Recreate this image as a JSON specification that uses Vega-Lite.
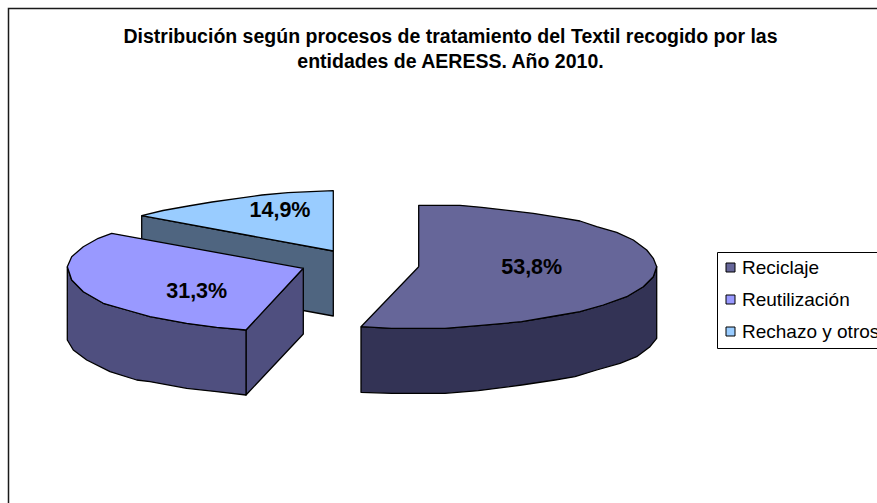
{"$schema":"https://vega.github.io/schema/vega-lite/v6.json","width":877,"height":503,"padding":0,"autosize":{"type":"none"},"background":"white","view":{"stroke":null},
"title":{"text":["Distribución según procesos de tratamiento del Textil recogido por las","entidades de AERESS. Año 2010."],"font":"Liberation Sans","fontSize":19.5,"fontWeight":"bold","color":"#000000","lineHeight":25,"anchor":"middle","dx":12,"offset":-72},
"layer":[
{"data":{"values":[{"x":8.5,"y":503,"o":1},{"x":8.5,"y":8.5,"o":2},{"x":877,"y":8.5,"o":3}]},"mark":{"type":"line","stroke":"#1a1a1a","strokeWidth":1.5},"encoding":{"x":{"field":"x","type":"quantitative","axis":null,"scale":{"domain":[0,877],"nice":false,"zero":false}},"y":{"field":"y","type":"quantitative","axis":null,"scale":{"domain":[503,0],"nice":false,"zero":false}},"order":{"field":"o"}}},
{"data":{"values":[
{"p":"Rechazo lateral","o":1,"x":141.7,"y":215.7},{"p":"Rechazo lateral","o":2,"x":333.3,"y":251},{"p":"Rechazo lateral","o":3,"x":333.3,"y":316},{"p":"Rechazo lateral","o":4,"x":141.7,"y":281},{"p":"Rechazo lateral","o":5,"x":141.7,"y":215.7},
{"p":"Rechazo y otros","o":1,"x":333.3,"y":251},{"p":"Rechazo y otros","o":2,"x":333.3,"y":190.7},{"p":"Rechazo y otros","o":3,"x":288,"y":192.7},{"p":"Rechazo y otros","o":4,"x":262,"y":195},{"p":"Rechazo y otros","o":5,"x":238,"y":198.3},{"p":"Rechazo y otros","o":6,"x":212,"y":202},{"p":"Rechazo y otros","o":7,"x":188.3,"y":206},{"p":"Rechazo y otros","o":8,"x":163,"y":210.5},{"p":"Rechazo y otros","o":9,"x":141.7,"y":215.7},{"p":"Rechazo y otros","o":10,"x":333.3,"y":251},
{"p":"Reutilización interior","o":1,"x":246,"y":330},{"p":"Reutilización interior","o":2,"x":303.3,"y":268.3},{"p":"Reutilización interior","o":3,"x":303.3,"y":334},{"p":"Reutilización interior","o":4,"x":246,"y":395},{"p":"Reutilización interior","o":5,"x":246,"y":330},
{"p":"Reutilización lateral","o":1,"x":67.3,"y":266.7},{"p":"Reutilización lateral","o":2,"x":71.7,"y":280},{"p":"Reutilización lateral","o":3,"x":83.3,"y":291.7},{"p":"Reutilización lateral","o":4,"x":103.3,"y":303.3},{"p":"Reutilización lateral","o":5,"x":126.7,"y":310},{"p":"Reutilización lateral","o":6,"x":150,"y":316.7},{"p":"Reutilización lateral","o":7,"x":186.7,"y":323.3},{"p":"Reutilización lateral","o":8,"x":216.7,"y":327.3},{"p":"Reutilización lateral","o":9,"x":246,"y":330},{"p":"Reutilización lateral","o":10,"x":246,"y":395},{"p":"Reutilización lateral","o":11,"x":216.7,"y":391.7},{"p":"Reutilización lateral","o":12,"x":186.7,"y":388.3},{"p":"Reutilización lateral","o":13,"x":150,"y":381.7},{"p":"Reutilización lateral","o":14,"x":136.7,"y":380},{"p":"Reutilización lateral","o":15,"x":110,"y":371.7},{"p":"Reutilización lateral","o":16,"x":86.7,"y":360},{"p":"Reutilización lateral","o":17,"x":73.3,"y":350},{"p":"Reutilización lateral","o":18,"x":67.3,"y":340},{"p":"Reutilización lateral","o":19,"x":67.3,"y":266.7},
{"p":"Reutilización","o":1,"x":303.3,"y":268.3},{"p":"Reutilización","o":2,"x":111.7,"y":233.3},{"p":"Reutilización","o":3,"x":98.3,"y":238.3},{"p":"Reutilización","o":4,"x":83.3,"y":246.7},{"p":"Reutilización","o":5,"x":71.7,"y":256.7},{"p":"Reutilización","o":6,"x":67.3,"y":266.7},{"p":"Reutilización","o":7,"x":71.7,"y":280},{"p":"Reutilización","o":8,"x":83.3,"y":291.7},{"p":"Reutilización","o":9,"x":103.3,"y":303.3},{"p":"Reutilización","o":10,"x":126.7,"y":310},{"p":"Reutilización","o":11,"x":150,"y":316.7},{"p":"Reutilización","o":12,"x":186.7,"y":323.3},{"p":"Reutilización","o":13,"x":216.7,"y":327.3},{"p":"Reutilización","o":14,"x":246,"y":330},{"p":"Reutilización","o":15,"x":303.3,"y":268.3},
{"p":"Reciclaje lateral","o":1,"x":361,"y":326.7},{"p":"Reciclaje lateral","o":2,"x":391.7,"y":328.3},{"p":"Reciclaje lateral","o":3,"x":445,"y":328.3},{"p":"Reciclaje lateral","o":4,"x":478.3,"y":325.7},{"p":"Reciclaje lateral","o":5,"x":521.7,"y":321.7},{"p":"Reciclaje lateral","o":6,"x":555,"y":316},{"p":"Reciclaje lateral","o":7,"x":580,"y":311.7},{"p":"Reciclaje lateral","o":8,"x":603.3,"y":305},{"p":"Reciclaje lateral","o":9,"x":626.7,"y":296.7},{"p":"Reciclaje lateral","o":10,"x":643.3,"y":286.7},{"p":"Reciclaje lateral","o":11,"x":653.3,"y":276.7},{"p":"Reciclaje lateral","o":12,"x":656.7,"y":266.7},{"p":"Reciclaje lateral","o":13,"x":656.7,"y":338.3},{"p":"Reciclaje lateral","o":14,"x":650,"y":346.7},{"p":"Reciclaje lateral","o":15,"x":636.7,"y":356.7},{"p":"Reciclaje lateral","o":16,"x":620,"y":363.3},{"p":"Reciclaje lateral","o":17,"x":596.7,"y":370},{"p":"Reciclaje lateral","o":18,"x":575,"y":376.7},{"p":"Reciclaje lateral","o":19,"x":555,"y":380},{"p":"Reciclaje lateral","o":20,"x":521.7,"y":385},{"p":"Reciclaje lateral","o":21,"x":478.3,"y":390.7},{"p":"Reciclaje lateral","o":22,"x":445,"y":393.3},{"p":"Reciclaje lateral","o":23,"x":391.7,"y":393.3},{"p":"Reciclaje lateral","o":24,"x":361,"y":392.3},{"p":"Reciclaje lateral","o":25,"x":361,"y":326.7},
{"p":"Reciclaje","o":1,"x":418.7,"y":266.7},{"p":"Reciclaje","o":2,"x":418.7,"y":205.3},{"p":"Reciclaje","o":3,"x":460,"y":205.3},{"p":"Reciclaje","o":4,"x":481.7,"y":207.3},{"p":"Reciclaje","o":5,"x":510,"y":210.7},{"p":"Reciclaje","o":6,"x":533.3,"y":213.3},{"p":"Reciclaje","o":7,"x":560,"y":217.7},{"p":"Reciclaje","o":8,"x":580,"y":221},{"p":"Reciclaje","o":9,"x":596.7,"y":226.7},{"p":"Reciclaje","o":10,"x":616.7,"y":232.3},{"p":"Reciclaje","o":11,"x":633.3,"y":240},{"p":"Reciclaje","o":12,"x":646.7,"y":250},{"p":"Reciclaje","o":13,"x":653.3,"y":258.3},{"p":"Reciclaje","o":14,"x":656.7,"y":266.7},{"p":"Reciclaje","o":15,"x":653.3,"y":276.7},{"p":"Reciclaje","o":16,"x":643.3,"y":286.7},{"p":"Reciclaje","o":17,"x":626.7,"y":296.7},{"p":"Reciclaje","o":18,"x":603.3,"y":305},{"p":"Reciclaje","o":19,"x":580,"y":311.7},{"p":"Reciclaje","o":20,"x":555,"y":316},{"p":"Reciclaje","o":21,"x":521.7,"y":321.7},{"p":"Reciclaje","o":22,"x":478.3,"y":325.7},{"p":"Reciclaje","o":23,"x":445,"y":328.3},{"p":"Reciclaje","o":24,"x":391.7,"y":328.3},{"p":"Reciclaje","o":25,"x":361,"y":326.7},{"p":"Reciclaje","o":26,"x":418.7,"y":266.7}
]},"mark":{"type":"line","stroke":"#000000","strokeWidth":1.3,"strokeJoin":"round"},"encoding":{"x":{"field":"x","type":"quantitative","axis":null,"scale":{"domain":[0,877],"nice":false,"zero":false}},"y":{"field":"y","type":"quantitative","axis":null,"scale":{"domain":[503,0],"nice":false,"zero":false}},"order":{"field":"o"},"fill":{"field":"p","type":"nominal","sort":null,"scale":{"domain":["Reciclaje","Reutilización","Rechazo y otros","Rechazo lateral","Reutilización interior","Reutilización lateral","Reciclaje lateral"],"range":["#666699","#9999FF","#99CCFF","#4F6580","#4F4F7F","#4F4F7F","#333355"]},"legend":{"values":["Reciclaje","Reutilización","Rechazo y otros"],"title":null,"orient":"none","legendX":717,"legendY":252,"padding":6,"fillColor":"#FFFFFF","strokeColor":"#000000","symbolType":"square","symbolSize":81,"symbolOffset":-2,"symbolStrokeColor":"#000000","symbolStrokeWidth":1,"labelFont":"Liberation Sans","labelFontSize":19,"labelColor":"#000000","labelOffset":2,"rowPadding":12,"labelLimit":300}}}},
{"data":{"values":[{"x":531.7,"y":268,"t":"53,8%"},{"x":196.7,"y":292,"t":"31,3%"},{"x":280,"y":210.5,"t":"14,9%"}]},"mark":{"type":"text","font":"Liberation Sans","fontWeight":"bold","fontSize":21.5,"color":"#000000","align":"center","baseline":"middle"},"encoding":{"x":{"field":"x","type":"quantitative","axis":null,"scale":{"domain":[0,877],"nice":false,"zero":false}},"y":{"field":"y","type":"quantitative","axis":null,"scale":{"domain":[503,0],"nice":false,"zero":false}},"text":{"field":"t"}}}
]}
